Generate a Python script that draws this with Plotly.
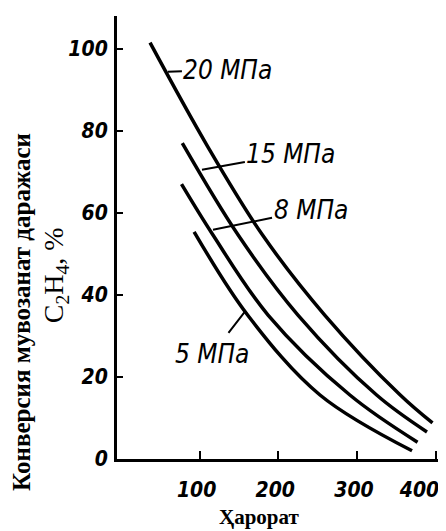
import plotly.graph_objects as go

# Data (temperature, conversion %)
x_20 = [37, 109, 180, 259, 355, 396]
y_20 = [101.5, 76.6, 54.6, 35.1, 15.6, 8.8]

x_15 = [78, 149, 225, 325, 389]
y_15 = [77, 54.6, 35.1, 15.6, 6.6]

x_8 = [77, 117, 187, 291, 377]
y_8 = [67, 54.6, 35.1, 15.6, 4.1]

x_5 = [93, 161, 253, 370]
y_5 = [55.4, 35.1, 15.6, 2.0]

series = [("20 МПа", x_20, y_20), ("15 МПа", x_15, y_15),
          ("8 МПа", x_8, y_8), ("5 МПа", x_5, y_5)]

x_ticks = [100, 200, 300, 400]
y_ticks = [0, 20, 40, 60, 80, 100]

# label text position and leader tip (data coords)
labels = {
    "20 МПа": dict(tx=136, ty=94.9, px=59.7, py=94.4, ss=0),
    "15 МПа": dict(tx=216, ty=74.4, px=103, py=70.5, ss=0),
    "8 МПа": dict(tx=241, ty=60.7, px=117, py=55.9, ss=0),
    "5 МПа": dict(tx=115.6, ty=25.6, px=157.6, py=35.9, ss=6),
}

NUM_FONT = "DejaVu Sans Condensed, DejaVu Sans, sans-serif"
SERIF = "Liberation Serif, DejaVu Serif, serif"

fig = go.Figure()
for name, xs, ys in series:
    fig.add_trace(go.Scatter(x=xs, y=ys, mode="lines", name=name,
                             line=dict(color="black", width=3.5, shape="spline", smoothing=1.0),
                             showlegend=False, hoverinfo="skip"))

for name, d in labels.items():
    fig.add_annotation(x=d["px"], y=d["py"], xref="x", yref="y",
                       ax=d["tx"], ay=d["ty"], axref="x", ayref="y",
                       text=name, showarrow=True, arrowhead=0, arrowwidth=2,
                       arrowcolor="black", startstandoff=d["ss"],
                       font=dict(family=NUM_FONT, size=26, color="black",
                                 style="italic"))

fig.add_annotation(text="Конверсия мувозанат даражаси", xref="paper", yref="paper",
                   x=-0.296, y=0.332, xanchor="center", yanchor="middle",
                   textangle=-90, showarrow=False,
                   font=dict(family=SERIF, size=25, color="black", weight="bold"))
fig.add_annotation(text="C<sub>2</sub>H<sub>4</sub>, %", xref="paper", yref="paper",
                   x=-0.193, y=0.415, xanchor="center", yanchor="middle",
                   textangle=-90, showarrow=False,
                   font=dict(family=SERIF, size=28, color="black"))
fig.add_annotation(text="Ҳарорат", xref="paper", yref="paper",
                   x=0.442, y=-0.131, xanchor="center", yanchor="middle",
                   showarrow=False,
                   font=dict(family=SERIF, size=21, color="black", weight="bold"))

tickfont = dict(family=NUM_FONT, size=21, color="black", style="italic", weight="bold")

# last x label sits left of its tick in the reference (page edge): pad with invisible text
x_ticktext = [str(v) for v in x_ticks]
x_ticktext[-1] = x_ticktext[-1] + "<span style='color:rgba(0,0,0,0)'>00</span>"

fig.update_xaxes(range=[-5, 403], tickvals=x_ticks, ticktext=x_ticktext,
                 showline=True, linecolor="black", linewidth=3, mirror=False,
                 ticks="inside", ticklen=8, tickwidth=2, tickcolor="black",
                 showgrid=False, zeroline=False, tickfont=tickfont, automargin=False,
                 ticklabelstandoff=10, ticklabelshift=-3, ticklabeloverflow="allow")
fig.update_yaxes(range=[0, 108], tickvals=y_ticks, ticktext=[str(v) for v in y_ticks],
                 showline=True, linecolor="black", linewidth=3, mirror=False,
                 ticks="inside", ticklen=6, tickwidth=2, tickcolor="black",
                 showgrid=False, zeroline=False, tickfont=tickfont, automargin=False,
                 ticklabelstandoff=2)

# page body adds an 8px offset, so the figure is 8px smaller and margins adjusted
fig.update_layout(width=438, height=523, plot_bgcolor="white", paper_bgcolor="white",
                  margin=dict(l=109, r=8, t=8, b=72))

fig.write_html("out.html")
